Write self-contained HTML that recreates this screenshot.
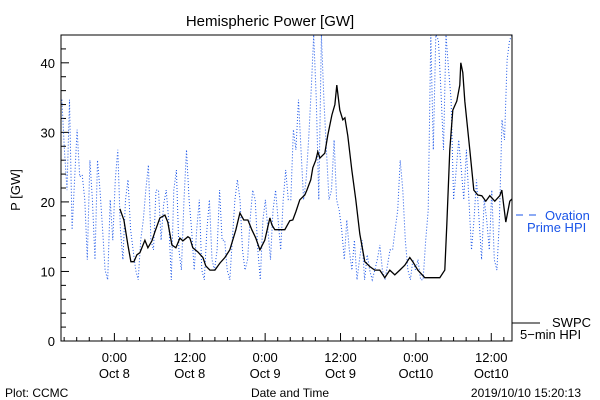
<!DOCTYPE html>
<html><head><meta charset="utf-8"><style>
html,body{margin:0;padding:0;background:#fff;}
svg{display:block;font-family:"Liberation Sans",sans-serif;}
</style></head><body>
<svg id="chart" width="600" height="400" viewBox="0 0 600 400">
<defs><clipPath id="plotclip"><rect x="61" y="35" width="451" height="306"/></clipPath></defs>
<text x="270" y="26" font-size="15" text-anchor="middle">Hemispheric Power [GW]</text>
<text x="20" y="190" font-size="13" text-anchor="middle" transform="rotate(-90 20 190)">P [GW]</text>
<g id="axes"></g>
<g id="series" clip-path="url(#plotclip)"></g>
<rect x="61" y="35" width="451" height="306" fill="none" stroke="#000" stroke-width="1"/>
<g>
<line x1="516" y1="215" x2="541" y2="215" stroke="#1a55e8" stroke-width="1" stroke-dasharray="7,6"/>
<text x="545" y="220" font-size="13" fill="#1a55e8">Ovation</text>
<text x="527" y="232" font-size="13" fill="#1a55e8">Prime HPI</text>
</g>
<g>
<line x1="512" y1="323" x2="540" y2="323" stroke="#000" stroke-width="1"/>
<text x="552" y="327" font-size="13">SWPC</text>
<text x="520" y="339" font-size="13">5−min HPI</text>
</g>
<text x="5" y="397" font-size="12">Plot: CCMC</text>
<text x="290" y="397" font-size="12" text-anchor="middle">Date and Time</text>
<text x="581" y="397" font-size="12" text-anchor="end">2019/10/10 15:20:13</text>
</svg>
<script>
const blueStart = -8.36;
const blueStep = 0.405;
const blueValues = [34.7,27.5,21.7,34.7,16,23.2,30.4,23.6,23.9,20.3,11.7,26,20.3,11.7,26,21.7,16,10.2,8.8,20.3,14.5,23.2,27.5,16,11.7,20.3,23.2,16,13.1,10.2,8.8,14.5,17.4,21.7,25.3,14.5,13.1,21.7,21.7,14.5,19.6,21.7,17.4,8.8,21.7,24.6,13.1,10.2,20.3,27.5,20.3,16,10.2,16,20.3,10.2,8.8,16,20.3,11.7,10.2,13.1,21.7,14.5,14.5,10.2,8.8,14.5,20.3,23.2,20.3,13.1,10.2,11.7,17.4,21.7,20.3,13.1,8.8,17.4,20.3,16,11.7,18.8,21.7,17.4,13.1,20.3,24.6,20.3,20.3,30.4,27.5,34.7,27.5,20.3,23.2,28.9,36.1,44,34.7,20.3,44,34.7,27.5,20.3,21.7,28.9,20.3,18.8,16,11.7,17.4,13.1,10.2,14.5,8.8,11.7,14.5,8.8,12.4,10.2,8.8,10.2,11.7,13.8,10.2,8.8,10.9,13.1,13.1,16,18.8,26,21.7,14.5,10.2,8.8,11.7,10.2,11.7,8.8,8.8,14.5,18.8,44,27.5,44,43.3,36.1,27.5,44,39,34.7,20.3,24.6,28.9,24.6,20.3,27.5,20.3,13.1,17.4,23.2,17.4,11.7,20.3,17.4,13.1,21.7,11.7,10.2,17.4,31.8,28.9,40.4,43.3,44];
const blackHours = [0.88,1.51,2.15,2.63,3.10,3.58,4.06,4.85,5.33,5.97,6.45,7.24,8.04,8.51,9.15,9.79,10.43,10.90,11.70,12.02,12.49,13.29,14.09,14.56,15.20,16.0,16.79,17.59,18.38,19.34,19.98,20.61,21.25,21.88,22.52,23.16,23.95,24.75,25.07,25.54,27.13,27.93,28.41,28.89,29.52,30.32,30.64,31.27,31.59,32.07,32.39,32.71,33.50,33.98,34.62,35.10,35.41,35.89,36.37,36.69,37.16,37.80,38.44,39.07,39.87,40.67,41.46,42.26,43.05,43.85,44.64,45.44,46.24,47.03,47.51,48.31,49.42,51.81,52.6,52.92,53.40,53.88,54.51,54.99,55.15,55.47,55.79,56.58,57.22,57.85,58.49,59.13,59.76,60.56,61.36,61.68,62.31,62.95,63.27];
const blackValues = [19.0,17.4,13.8,11.4,11.4,12.4,12.7,14.5,13.4,14.4,15.7,17.7,18.1,17.1,13.8,13.4,14.8,14.4,15.0,14.8,13.4,12.8,12.0,10.8,10.2,10.2,11.2,12.0,13.1,16.0,18.4,17.4,17.4,16.0,14.8,13.1,14.5,17.7,16.7,16.0,16.0,17.3,17.4,18.6,20.3,21.0,21.7,23.2,24.9,26.0,27.2,26.3,27.0,29.6,32.5,34.0,36.8,33.2,31.8,32.1,29.5,24.6,20.3,15.4,11.4,10.7,10.2,10.2,9.1,10.2,9.5,10.2,10.9,12.0,11.4,10.2,9.1,9.1,10.2,16.7,27.5,33.2,34.5,36.8,40.0,38.6,34.5,27.5,21.7,21.0,20.9,20.1,20.9,20.1,20.9,21.7,17.1,20.1,20.4];
const yTicks = [0,10,20,30,40];
const xTickHours = [0,12,24,36,48,60];
const xTickTimes = ["0:00","12:00","0:00","12:00","0:00","12:00"];
const xTickDates = ["Oct 8","Oct 8","Oct 9","Oct 9","Oct10","Oct10"];

const NS="http://www.w3.org/2000/svg";
const X0=61,X1=512,Y0=341,Y1=35,HMIN=-8.5,HMAX=63.3,VMAX=44;
function xs(h){return X0+(h-HMIN)/(HMAX-HMIN)*(X1-X0);}
function ys(v){return Y0-v/VMAX*(Y0-Y1);}
function mk(t,a){const e=document.createElementNS(NS,t);for(const k in a)e.setAttribute(k,a[k]);return e;}
const axes=document.getElementById('axes');
const series=document.getElementById('series');
// y ticks
for(let v=0;v<=44;v+=2){
  const major=v%10===0;
  const t=mk('line',{x1:X0,x2:X0+(major?8:5),y1:ys(v),y2:ys(v),stroke:'#000'});
  
  
  axes.appendChild(t);
}
yTicks.forEach(v=>{
  const t=mk('text',{x:X0-6,y:ys(v)+5,'font-size':13,'text-anchor':'end'});
  
  
  t.textContent=v;axes.appendChild(t);
});
// x ticks
for(let h=-8;h<=HMAX;h+=2){
  const major=h%12===0;
  const t=mk('line',{x1:xs(h),x2:xs(h),y1:Y0,y2:Y0-(major?8:4),stroke:'#000'});
  
  
  axes.appendChild(t);
}
xTickHours.forEach((h,i)=>{
  const a=mk('text',{x:xs(h),y:362,'font-size':13,'text-anchor':'middle'});
  
  
  a.textContent=xTickTimes[i];axes.appendChild(a);
  const b=mk('text',{x:xs(h),y:378,'font-size':13,'text-anchor':'middle'});
  
  
  b.textContent=xTickDates[i];axes.appendChild(b);
});
// blue dotted series
const bp=blueValues.map((v,i)=>xs(blueStart+i*blueStep).toFixed(1)+','+ys(v).toFixed(1)).join(' ');
const bl=mk('polyline',{points:bp,fill:'none',stroke:'#1a55e8','stroke-width':1,'stroke-dasharray':'1,2'});


series.appendChild(bl);
// black series
const kp=blackValues.map((v,i)=>xs(blackHours[i]).toFixed(1)+','+ys(v).toFixed(1)).join(' ');
const kl=mk('polyline',{points:kp,fill:'none',stroke:'#000','stroke-width':1.3});


series.appendChild(kl);
</script>
</body></html>
